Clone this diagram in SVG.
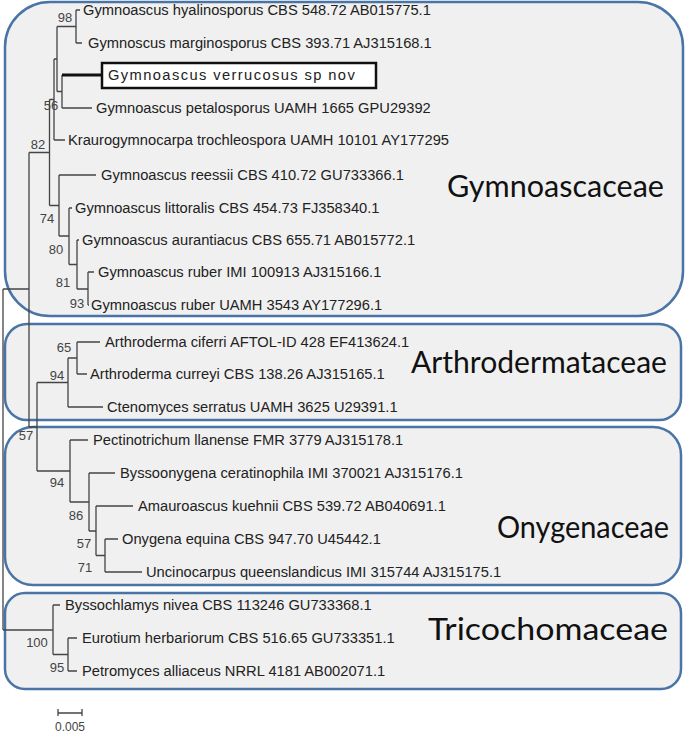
<svg xmlns="http://www.w3.org/2000/svg" width="685" height="734" viewBox="0 0 685 734">
<style>
.fam{fill:#f0f0f0;stroke:#4a74a6;stroke-width:2.5}
.leaf{font-family:"Liberation Sans",Arial,sans-serif;font-size:14.7px;fill:#222}
.bs{font-family:"Liberation Sans",Arial,sans-serif;font-size:13px;fill:#444;text-anchor:middle}
.lbl{font-family:Lato,"Open Sans",sans-serif;font-size:30px;fill:#111}
.br{fill:none;stroke:#444;stroke-width:1.3}
</style>
<rect width="685" height="734" fill="#fff"/>
<g id="gymnoascaceae">
<rect class="fam" x="5" y="2" width="678" height="314" rx="45"/>
<text class="lbl" x="447" y="197" textLength="217" lengthAdjust="spacingAndGlyphs">Gymnoascaceae</text>
</g>
<g id="arthrodermataceae">
<rect class="fam" x="5" y="324" width="676" height="96" rx="22"/>
<text class="lbl" x="411" y="373" textLength="256" lengthAdjust="spacingAndGlyphs">Arthrodermataceae</text>
</g>
<g id="onygenaceae">
<rect class="fam" x="5" y="427" width="676" height="158" rx="28"/>
<text class="lbl" x="497" y="538" textLength="172" lengthAdjust="spacingAndGlyphs">Onygenaceae</text>
</g>
<g id="tricochomaceae">
<rect class="fam" x="5" y="593" width="676" height="96" rx="20"/>
<text class="lbl" x="428" y="640" textLength="240" lengthAdjust="spacingAndGlyphs">Tricochomaceae</text>
</g>
<g id="connectors">
<path class="br" d="M76 10V43M76 10H80M76 43H82"/>
<path class="br" d="M62 75V108M62 108H92"/>
<path d="M62 75H102" stroke="#111" stroke-width="3.2" fill="none"/>
<path class="br" d="M57 26.5V91.5M57 26.5H76M57 91.5H62"/>
<path class="br" d="M54 59V140M54 59H57M54 140H65"/>
<path class="br" d="M49.5 99.5V205.5M49.5 99.5H54M49.5 205.5H59"/>
<path class="br" d="M59 175V236M59 175H96M59 236H69"/>
<path class="br" d="M69 208V264.5M69 208H72M69 264.5H77"/>
<path class="br" d="M77 240V289M77 240H79M77 289H88"/>
<path class="br" d="M88 272V305M88 272H94M88 305H89"/>
<path class="br" d="M29 152.5V427M29 152.5H49.5M29 427H37"/>
<path class="br" d="M37 382.5V471M37 382.5H68M37 471H70"/>
<path class="br" d="M68 358V407M68 358H77M68 407H103"/>
<path class="br" d="M77 342V374M77 342H100M77 374H87"/>
<path class="br" d="M70 440V502M70 440H88M70 502H89"/>
<path class="br" d="M89 473V531M89 473H115M89 531H96"/>
<path class="br" d="M96 506V555.5M96 506H133M96 555.5H105"/>
<path class="br" d="M105 539V572M105 539H118M105 572H142"/>
<path class="br" d="M53 605V654.5M53 605H60M53 654.5H68"/>
<path class="br" d="M68 638V671M68 638H77M68 671H77"/>
<path class="br" d="M3 289V630M3 289H29M3 630H53"/>
</g>
<g id="leaves">
<text class="leaf" x="83" y="15">Gymnoascus hyalinosporus CBS 548.72 AB015775.1</text>
<text class="leaf" x="88" y="48">Gymnoscus marginosporus CBS 393.71 AJ315168.1</text>
<g id="verrucosus">
<rect x="102" y="63" width="274" height="25" fill="#fff" stroke="#111" stroke-width="2.5"/>
<text class="leaf" x="108" y="80" letter-spacing="1.4">Gymnoascus verrucosus sp nov</text>
</g>
<text class="leaf" x="96" y="113">Gymnoascus petalosporus UAMH 1665 GPU29392</text>
<text class="leaf" x="68" y="145">Kraurogymnocarpa trochleospora UAMH 10101 AY177295</text>
<text class="leaf" x="101" y="180">Gymnoascus reessii CBS 410.72 GU733366.1</text>
<text class="leaf" x="75" y="213">Gymnoascus littoralis CBS 454.73 FJ358340.1</text>
<text class="leaf" x="82" y="245">Gymnoascus aurantiacus CBS 655.71 AB015772.1</text>
<text class="leaf" x="98" y="277">Gymnoascus ruber IMI 100913 AJ315166.1</text>
<text class="leaf" x="91" y="310">Gymnoascus ruber UAMH 3543 AY177296.1</text>
<text class="leaf" x="105" y="347">Arthroderma ciferri AFTOL-ID 428 EF413624.1</text>
<text class="leaf" x="90" y="379">Arthroderma curreyi CBS 138.26 AJ315165.1</text>
<text class="leaf" x="107" y="412">Ctenomyces serratus UAMH 3625 U29391.1</text>
<text class="leaf" x="93" y="445">Pectinotrichum llanense FMR 3779 AJ315178.1</text>
<text class="leaf" x="120" y="478">Byssoonygena ceratinophila IMI 370021 AJ315176.1</text>
<text class="leaf" x="138" y="511">Amauroascus kuehnii CBS 539.72 AB040691.1</text>
<text class="leaf" x="122" y="544">Onygena equina CBS 947.70 U45442.1</text>
<text class="leaf" x="146" y="577">Uncinocarpus queenslandicus IMI 315744 AJ315175.1</text>
<text class="leaf" x="65" y="610">Byssochlamys nivea CBS 113246 GU733368.1</text>
<text class="leaf" x="82" y="643">Eurotium herbariorum CBS 516.65 GU733351.1</text>
<text class="leaf" x="82" y="676">Petromyces alliaceus NRRL 4181 AB002071.1</text>
</g>
<g id="bootstrap">
<text class="bs" x="65" y="22">98</text>
<text class="bs" x="51" y="110">56</text>
<text class="bs" x="38" y="149">82</text>
<text class="bs" x="47" y="223">74</text>
<text class="bs" x="56" y="254">80</text>
<text class="bs" x="63" y="287">81</text>
<text class="bs" x="77" y="308">93</text>
<text class="bs" x="64" y="352">65</text>
<text class="bs" x="57" y="380">94</text>
<text class="bs" x="26" y="440">57</text>
<text class="bs" x="57" y="487">94</text>
<text class="bs" x="76" y="520">86</text>
<text class="bs" x="84" y="548">57</text>
<text class="bs" x="85" y="572">71</text>
<text class="bs" x="37" y="647">100</text>
<text class="bs" x="57" y="672">95</text>
</g>
<g id="scale">
<path class="br" d="M58 713H82M58 709V716M82 709V716"/>
<text class="bs" x="70" y="731" style="font-size:12px">0.005</text>
</g>
</svg>
